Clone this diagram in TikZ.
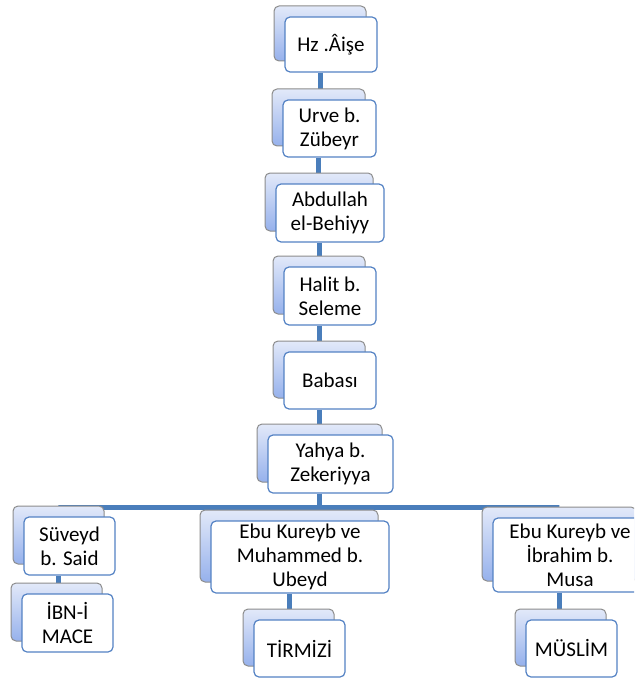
\documentclass[tikz,border=0pt]{standalone}
\usepackage{fontspec}
\setmainfont{Carlito}
\usetikzlibrary{backgrounds}
\definecolor{linkblue}{RGB}{74,126,187}
\definecolor{frameblue}{RGB}{84,130,196}
\definecolor{backgray}{RGB}{140,140,140}
\definecolor{backtop}{RGB}{226,233,249}
\definecolor{backbot}{RGB}{150,177,236}
\begin{document}
\begin{tikzpicture}[x=1pt,y=-1pt]
    \tikzset{
        kart/.style={draw=frameblue, line width=1.2pt, fill=white, rounded corners=5pt,
            align=center, inner sep=0pt, font=\fontsize{21}{24}\selectfont,
            preaction={draw=backgray, line width=1pt, top color=backtop, bottom color=backbot,
                transform canvas={shift={(-11pt,11pt)}}}},
        ebat/.style 2 args={minimum width=#1pt, minimum height=#2pt},
        link/.style={draw=linkblue, line width=5pt}}
    \useasboundingbox (0,0) rectangle (634,679);
    \clip (0,0) rectangle (634,679);
    % zincir
    \node[kart, ebat={92}{55}] (aise) at (331,44.5) {Hz .Âişe};
    \node[kart, ebat={93}{57}] (urve) at (329.5,128.5) {Urve b.\\Zübeyr};
    \node[kart, ebat={108}{58}] (abdullah) at (330,213) {Abdullah\\el-Behiyy};
    \node[kart, ebat={92}{58}] (halit) at (330,296) {Halit b.\\Seleme};
    \node[kart, ebat={92}{57}] (babasi) at (330,380.5) {Babası};
    \node[kart, ebat={125}{58}] (yahya) at (330.5,464) {Yahya b.\\Zekeriyya};
    % kollar
    \node[kart, ebat={91}{58}] (suveyd) at (69.5,546) {Süveyd\\b. Said};
    \node[kart, ebat={91}{58}] (ibnimace) at (67.5,623) {İBN-İ\\MACE};
    \node[kart, ebat={178}{72}] (ebu1) at (300,557) {Ebu Kureyb ve\\Muhammed b.\\Ubeyd};
    \node[kart, ebat={91}{57}] (tirmizi) at (299.5,648.5) {TİRMİZİ};
    \node[kart, ebat={154}{74}] (ebu2) at (570,555) {Ebu Kureyb ve\\İbrahim b.\\Musa};
    \node[kart, ebat={91}{57}] (muslim) at (571.5,648.5) {MÜSLİM};
    \begin{scope}[on background layer]
        \foreach \a/\b in {aise/urve,urve/abdullah,abdullah/halit,halit/babasi,babasi/yahya,
                suveyd/ibnimace,ebu1/tirmizi,ebu2/muslim}
            \draw[link] ([xshift=-11pt]\a.south) -- ([xshift=-11pt]\a.south |- \b.north);
        \foreach \c in {suveyd,ebu1,ebu2}
            \draw[link] ([xshift=-11pt]yahya.south) -- ++(0,-14pt) -| ([xshift=-11pt,yshift=10pt]\c.north);
    \end{scope}
\end{tikzpicture}
\end{document}
